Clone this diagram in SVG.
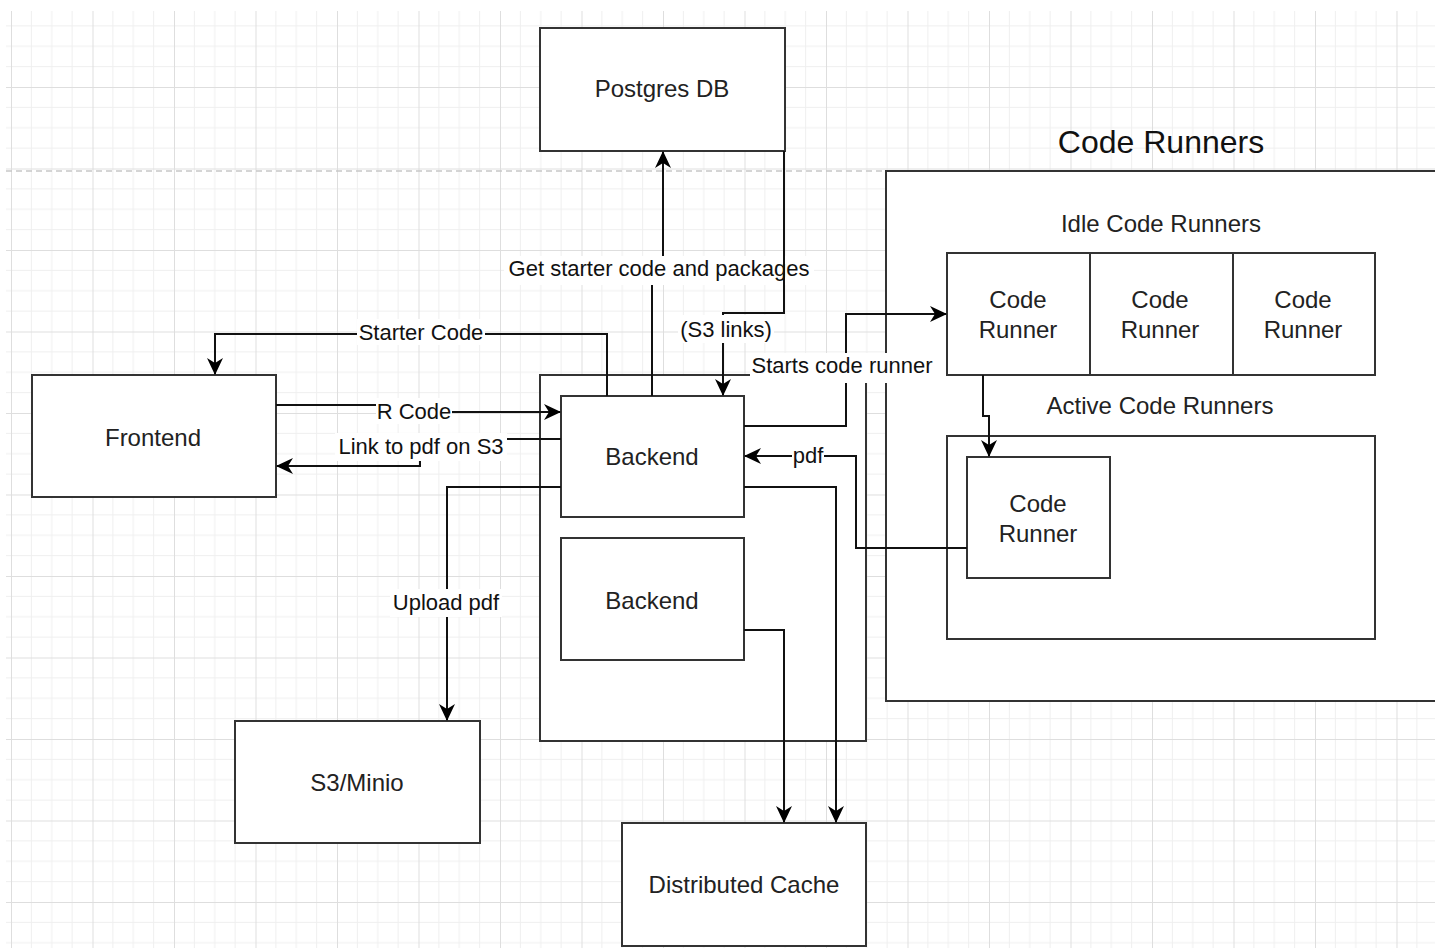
<svg xmlns="http://www.w3.org/2000/svg" width="1435" height="948" viewBox="0 0 1435 948">
<defs>
<pattern id="grid" patternUnits="userSpaceOnUse" x="11" y="5.5" width="81.5" height="81.5">
<path d="M20.375,0V81.5M40.75,0V81.5M61.125,0V81.5M0,20.375H81.5M0,40.75H81.5M0,61.125H81.5" stroke="#efefef" stroke-width="1" fill="none"/>
<path d="M0.5,0V81.5M0,0.5H81.5" stroke="#dedede" stroke-width="1" fill="none"/>
</pattern>
<marker id="arr" viewBox="0 0 17 16" markerWidth="17" markerHeight="16" refX="16" refY="8" orient="auto" markerUnits="userSpaceOnUse">
<path d="M0,0 L17,8 L0,16 L5,8 Z" fill="#000"/>
</marker>
</defs>
<style>
.box{fill:#fff;stroke:#333;stroke-width:2}
.t{font-family:"Liberation Sans",Arial,sans-serif;font-size:24px;fill:#222;text-anchor:middle}
.lt{font-family:"Liberation Sans",Arial,sans-serif;font-size:22px;fill:#111;text-anchor:middle}
.title{font-family:"Liberation Sans",Arial,sans-serif;font-size:32px;fill:#111;text-anchor:middle}
.c{fill:none;stroke:#111;stroke-width:2}
.lbg{fill:#fff}
</style>
<rect x="0" y="0" width="1435" height="948" fill="#fff"/>
<rect x="6" y="11" width="1429" height="937" fill="url(#grid)"/>
<line x1="6" y1="171" x2="886" y2="171" stroke="#c8c8c8" stroke-width="1.5" stroke-dasharray="6 4"/>

<g id="code-runners">
<rect class="box" x="886" y="171" width="552" height="530"/>
<text class="title" x="1161" y="153">Code Runners</text>
<text class="t" x="1161" y="232">Idle Code Runners</text>
<text class="t" x="1160" y="414">Active Code Runners</text>
</g>
<g id="backend-group">
<rect class="box" x="540" y="375" width="326" height="366"/>
</g>
<g id="idle-runners">
<rect class="box" x="947" y="253" width="428" height="122"/>
<line x1="1090" y1="253" x2="1090" y2="375" stroke="#333" stroke-width="2"/>
<line x1="1233" y1="253" x2="1233" y2="375" stroke="#333" stroke-width="2"/>
</g>
<g id="idle-runner-1">
<text class="t" x="1018" y="308">Code</text>
<text class="t" x="1018" y="338">Runner</text>
</g>
<g id="idle-runner-2">
<text class="t" x="1160" y="308">Code</text>
<text class="t" x="1160" y="338">Runner</text>
</g>
<g id="idle-runner-3">
<text class="t" x="1303" y="308">Code</text>
<text class="t" x="1303" y="338">Runner</text>
</g>
<g id="active-runners">
<rect class="box" x="947" y="436" width="428" height="203"/>
</g>
<g id="active-runner">
<rect class="box" x="967" y="457" width="143" height="121"/>
<text class="t" x="1038" y="512">Code</text>
<text class="t" x="1038" y="542">Runner</text>
</g>
<g id="postgres">
<rect class="box" x="540" y="28" width="245" height="123"/>
<text class="t" x="662" y="97">Postgres DB</text>
</g>
<g id="frontend">
<rect class="box" x="32" y="375" width="244" height="122"/>
<text class="t" x="153" y="446">Frontend</text>
</g>
<g id="backend1">
<rect class="box" x="561" y="396" width="183" height="121"/>
<text class="t" x="652" y="465">Backend</text>
</g>
<g id="backend2">
<rect class="box" x="561" y="538" width="183" height="122"/>
<text class="t" x="652" y="609">Backend</text>
</g>
<g id="s3">
<rect class="box" x="235" y="721" width="245" height="122"/>
<text class="t" x="357" y="791">S3/Minio</text>
</g>
<g id="cache">
<rect class="box" x="622" y="823" width="244" height="123"/>
<text class="t" x="744" y="893">Distributed Cache</text>
</g>

<g id="connectors">
<path class="c" d="M652,396 V268 H663 V152" marker-end="url(#arr)"/>
<path class="c" d="M607,396 V334 H215 V374" marker-end="url(#arr)"/>
<path class="c" d="M276,405 H414 V412 H560" marker-end="url(#arr)"/>
<path class="c" d="M561,439 H420 V466 H277" marker-end="url(#arr)"/>
<path class="c" d="M561,487 H447 V720" marker-end="url(#arr)"/>
<path class="c" d="M744,426 H846 V314 H946" marker-end="url(#arr)"/>
<path class="c" d="M967,548 H856 V456 H745" marker-end="url(#arr)"/>
<path class="c" d="M744,487 H836 V822" marker-end="url(#arr)"/>
<path class="c" d="M744,630 H784 V822" marker-end="url(#arr)"/>
<path class="c" d="M983,375 V416 H989 V456" marker-end="url(#arr)"/>

<rect class="lbg" x="504" y="256" width="310" height="29"/>
<text class="lt" x="659" y="276">Get starter code and packages</text>
<path class="c" d="M784,151 V313 H723 V395" marker-end="url(#arr)"/>
<rect class="lbg" x="678" y="315" width="96" height="28"/>
<text class="lt" x="726" y="337">(S3 links)</text>
<rect class="lbg" x="357" y="319" width="128" height="26"/>
<text class="lt" x="421" y="340">Starter Code</text>
<rect class="lbg" x="376" y="398" width="76" height="26"/>
<text class="lt" x="414" y="419">R Code</text>
<rect class="lbg" x="335" y="433" width="172" height="28"/>
<text class="lt" x="421" y="454">Link to pdf on S3</text>
<rect class="lbg" x="390" y="589" width="112" height="28"/>
<text class="lt" x="446" y="610">Upload pdf</text>
<rect class="lbg" x="750" y="353" width="186" height="30"/>
<text class="lt" x="842" y="373">Starts code runner</text>
<rect class="lbg" x="792" y="443" width="32" height="26"/>
<text class="lt" x="808" y="463">pdf</text>
</g>
</svg>
